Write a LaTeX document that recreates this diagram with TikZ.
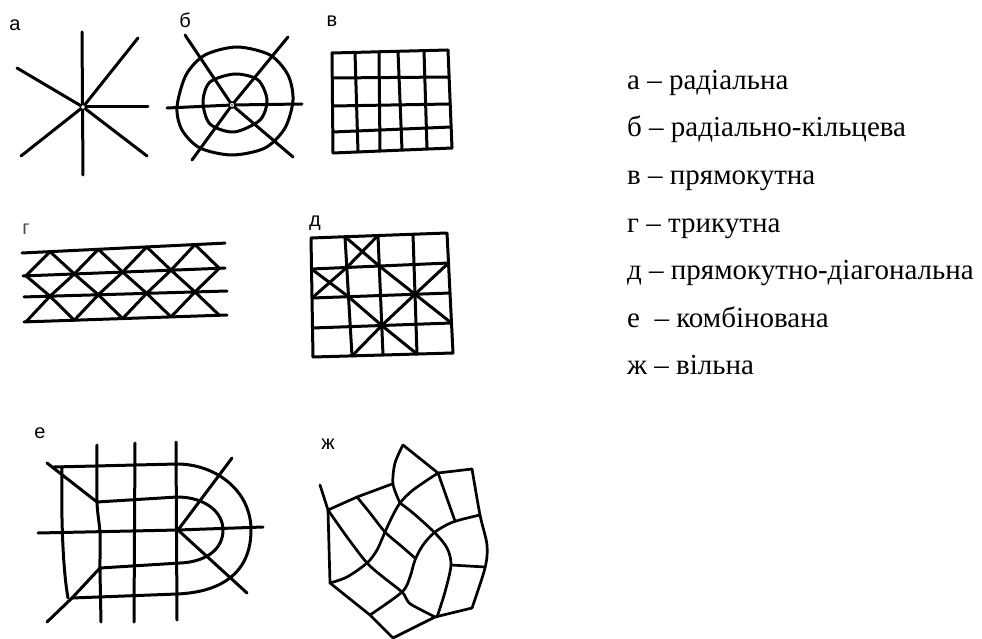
\documentclass[tikz,border=0pt]{standalone}
\usepackage{fontspec}
\setmainfont{Liberation Serif}
\newfontfamily\labfont{Liberation Sans}
\begin{document}
\begin{tikzpicture}[x=1pt,y=-1pt,
  ln/.style={line width=3pt,line cap=round,line join=round},
  lnf/.style={line width=2.7pt,line cap=round,line join=round},
  lab/.style={font=\labfont\fontsize{20}{20}\selectfont,inner sep=0pt},
  leg/.style={font=\fontsize{29}{34}\selectfont,anchor=base west,inner sep=0pt},
  declare function={gyA(\x)=253-10*(\x-22)/205; gyB(\x)=276-8*(\x-22)/205;
                    gyC(\x)=297-6*(\x-22)/205; gyD(\x)=322-7*(\x-22)/205;}]
\useasboundingbox (0,0) rectangle (982,639);

% ---------- a: radial ----------
\node[lab] (la) at (15,25) {а};
\coordinate (ac) at (83,107);
\draw[ln] (82,32) -- (83,175);
\draw[ln] (17,68) -- (ac) -- (147,156);
\draw[ln] (138,38) -- (ac) -- (21,156);
\draw[ln] (ac) -- (148,107);
\filldraw[fill=white,draw=black,line width=1.3pt] (ac) circle[radius=2.6pt];

% ---------- b: radial-ring ----------
\node[lab] (lb) at (185,20) {б};
\coordinate (bc) at (232,105);
\draw[ln] plot[smooth cycle] coordinates {(177,107) (186,75) (205,55) (237,47) (270,55) (288,75) (293,100) (285,128) (265,148) (232,155) (200,148) (182,130)};
\draw[ln] plot[smooth cycle] coordinates {(203,102) (210,82) (235,74) (258,80) (267,100) (260,120) (234,132) (210,124)};
\draw[ln] (167,108) -- (bc) -- (302,104);
\draw[ln] (185,35) -- (bc) -- (293,157);
\draw[ln] (288,37) -- (bc) -- (192,160);
\filldraw[fill=white,draw=black,line width=1.5pt] (bc) circle[radius=3pt];
\fill (bc) circle[radius=0.9pt];

% ---------- v: rectangular ----------
\node[lab] (lv) at (332,21) {в};
\foreach \i/\xt/\xb in {0/332/333,1/355/358,2/379/380,3/398/402,4/424/427,5/448/452}
  \draw[ln] ({\xt},{53-3*\i/5}) -- ({\xb},{153-5*\i/5});
\foreach \j/\yl/\yr in {0/53/50,1/78/77,2/106/104,3/132/127,4/153/148}
  \draw[ln] ({332+\j/4},{\yl}) -- ({448+4*\j/4},{\yr});

% ---------- g: triangular ----------
\node[lab,text=black!70] (lg) at (26,229) {г};
\draw[ln] (22,{gyA(22)}) -- (225,{gyA(225)});
\draw[ln] (23,{gyB(23)}) -- (225,{gyB(225)});
\draw[ln] (24,{gyC(24)}) -- (227,{gyC(227)});
\draw[ln] (24,{gyD(24)}) -- (227,{gyD(227)});
\foreach \k in {0,1,2,3} {
  \pgfmathsetmacro\xo{50+48.33*\k}
  \pgfmathsetmacro\xe{26+48.33*\k}
  \pgfmathsetmacro\xf{74.33+48.33*\k}
  \draw[ln] (\xe,{gyB(\xe)}) -- (\xo,{gyA(\xo)}) -- (\xf,{gyB(\xf)}) -- (\xo,{gyC(\xo)}) -- cycle;
  \draw[ln] (\xe,{gyD(\xe)}) -- (\xo,{gyC(\xo)}) -- (\xf,{gyD(\xf)});
}

% ---------- d: rectangular-diagonal ----------
\node[lab] (ld) at (315,223) {д};
\foreach \i/\xt/\xb in {0/311/313,1/345/352,2/378/383,3/413/417,4/447/453}
  \foreach \j/\yl/\yr in {0/238/233,1/269/263,2/298/293,3/328/323,4/357/353}
    \coordinate (d\i\j) at ({\xt+(\xb-\xt)*\j/4},{\yl+(\yr-\yl)*\i/4});
\draw[ln] (d00) -- (d40) -- (d44) -- (d04) -- cycle;
\foreach \i in {1,2,3} \draw[ln] (d\i0) -- (d\i4);
\foreach \j in {1,2,3} \draw[ln] (d0\j) -- (d4\j);
\draw[ln] (d10) -- (d21) (d20) -- (d11) (d01) -- (d12) (d02) -- (d11);
\draw[ln] (d21) -- (d32) -- (d43);
\draw[ln] (d41) -- (d32) -- (d23) -- (d14);
\draw[ln] (d12) -- (d23) -- (d34);

% ---------- e: combined ----------
\node[lab] (le) at (40,433) {е};
\coordinate (ec) at (178,530);
\draw[ln] (47,463) -- (97,502);
\draw[ln] (54,467) -- (177,464) .. controls (215,464) and (251,490) .. (251,530)
   .. controls (251,570) and (225,592) .. (177,594) -- (72,598);
\draw[ln] (62,467) .. controls (61,520) and (63,570) .. (68,598);
\draw[ln] (97,502) -- (177,497) .. controls (205,497) and (223,512) .. (223,530)
   .. controls (223,550) and (205,562) .. (180,563) -- (100,568);
\draw[ln] (38,533) -- (ec) -- (263,527);
\draw[ln] plot[smooth] coordinates {(97,445) (97,502) (100,533) (100,568) (101,622)};
\draw[ln] (135,443) -- (134,622);
\draw[ln] (176,442) -- (177,620);
\draw[ln] (232,458) -- (ec) -- (247,593);
\draw[ln] (47,622) -- (72,598) -- (100,568);

% ---------- zh: free ----------
\node[lab] (lzh) at (328,444) {ж};
\draw[lnf] (320,485) -- (328,510) -- (357,497) -- (392,484);
\draw[lnf] (328,510) -- (330,583) -- (370,615) -- (393,638) -- (435,617) -- (472,608);
\draw[lnf] (403,445) -- (438,473) -- (472,469);
\draw[lnf] plot[smooth] coordinates {(472,469) (480,515) (487,545) (485,568) (472,608)};
\draw[lnf] plot[smooth] coordinates {(403,445) (395,463) (393,484) (400,503)};
\draw[lnf] plot[smooth] coordinates {(330,583) (347,577) (367,563) (377,550) (385,532) (392,517) (400,503) (413,490) (438,473)};
\draw[lnf] plot[smooth] coordinates {(370,615) (402,592) (410,577) (415,560) (423,545) (435,532) (453,522) (480,515)};
\draw[lnf] plot[smooth] coordinates {(328,510) (347,537) (367,563) (383,577) (402,592) (407,600) (412,605) (435,617)};
\draw[lnf] plot[smooth] coordinates {(357,497) (370,513) (385,532) (400,545) (415,558)};
\draw[lnf] plot[smooth] coordinates {(400,503) (413,513) (435,533) (447,548) (451,565) (445,592) (437,617)};
\draw[lnf] (438,473) -- (455,521);
\draw[lnf] (451,565) -- (485,567);

% ---------- legend ----------
\node[leg] (t1) at (627,90)  {а – радіальна};
\node[leg] (t2) at (627,137) {б – радіально-кільцева};
\node[leg] (t3) at (627,185) {в – прямокутна};
\node[leg] (t4) at (627,232) {г – трикутна};
\node[leg] (t5) at (627,279) {д – прямокутно-діагональна};
\node[leg] (t6) at (627,327) {е\ \ – комбінована};
\node[leg] (t7) at (627,374) {ж – вільна};
\end{tikzpicture}
\end{document}
